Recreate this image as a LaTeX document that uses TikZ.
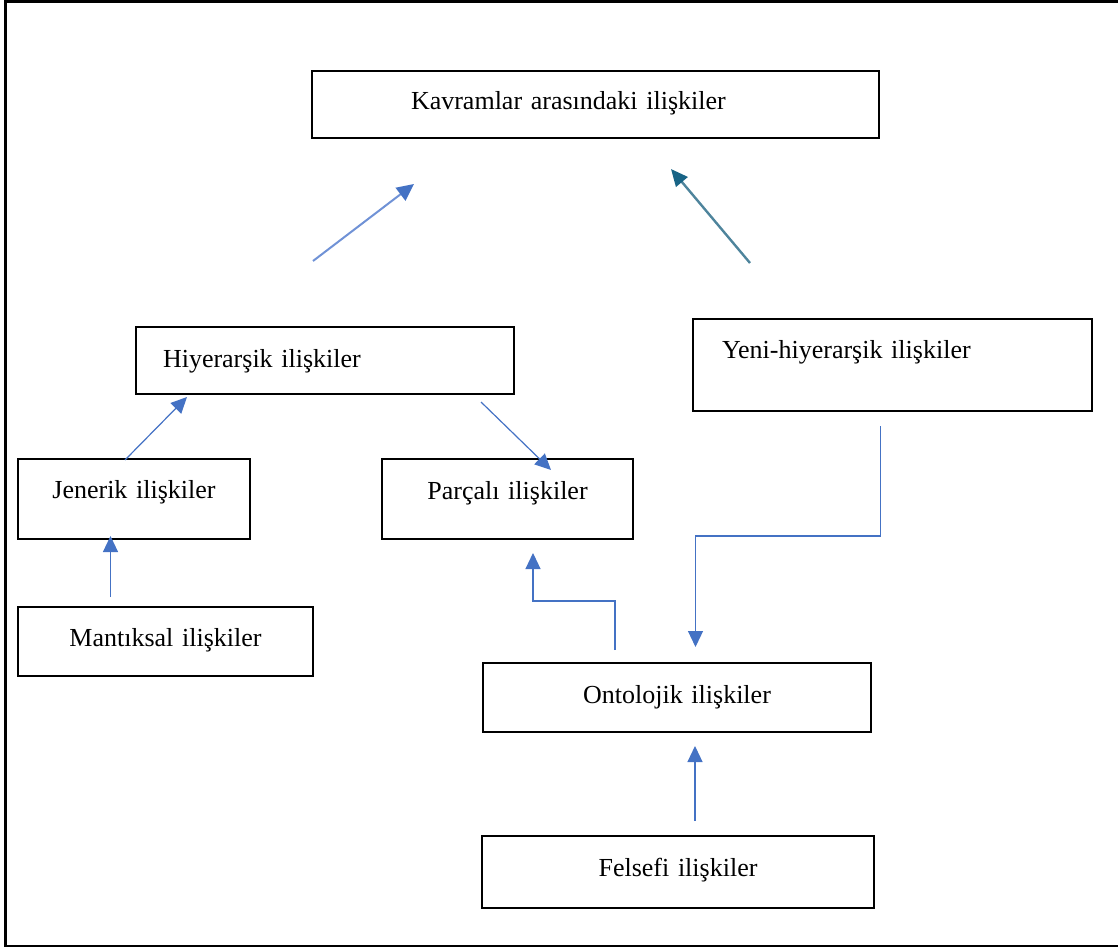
\documentclass[tikz,border=0pt]{standalone}
\usepackage{fontspec}
\setmainfont{Liberation Serif}
\usepackage{tikz}
\usetikzlibrary{arrows.meta,positioning}
\usepackage{xcolor}
\definecolor{okmavi}{RGB}{68,114,196}
\definecolor{okacik}{RGB}{112,146,214}
\definecolor{okteal}{RGB}{24,100,134}
\definecolor{oktealacik}{RGB}{78,132,156}
\tikzstyle{kutu} = [rectangle, draw=black, line width=2pt, anchor=north west, inner xsep=0pt, inner ysep=0pt, align=center, font=\fontsize{26}{30}\selectfont]
\tikzstyle{solkutu} = [kutu, align=left]
\tikzstyle{ok} = [line width=1.2pt, color=okmavi, -{Triangle[length=16pt,width=15pt]}]

\begin{document}
\begin{tikzpicture}[x=1pt, y=-1pt]
\useasboundingbox (0,0) rectangle (1118,949);
% frame
\draw[line width=2.4pt] (1120,1.5) -| (5.5,946) -- (1120,946);

% boxes
\node (kavram) [solkutu, inner xsep=99pt, text width=369pt, text height=39pt, text depth=28pt] at (311,70) {Kavramlar arasındaki ilişkiler};
\node (hiyer) [solkutu, inner xsep=27pt, text width=324pt, text height=40pt, text depth=27pt] at (135,326) {Hiyerarşik ilişkiler};
\node (yeni) [solkutu, inner xsep=29pt, text width=341pt, text height=39pt, text depth=53pt] at (692,318) {Yeni-hiyerarşik ilişkiler};
\node (jenerik) [kutu, text width=232pt, text height=39pt, text depth=41pt] at (17,458) {Jenerik ilişkiler};
\node (parcali) [kutu, text width=251pt, text height=40pt, text depth=40pt] at (381,458) {Parçalı ilişkiler};
\node (mantik) [kutu, text width=295pt, text height=39pt, text depth=30pt] at (17,606) {Mantıksal ilişkiler};
\node (onto) [kutu, text width=388pt, text height=40pt, text depth=29pt] at (482,662) {Ontolojik ilişkiler};
\node (felsefi) [kutu, text width=392pt, text height=40pt, text depth=32pt] at (481,835) {Felsefi ilişkiler};

% free ends of the connectors
\coordinate (h1) at (313,261);
\coordinate (k1) at (414,184);
\coordinate (y1) at (750,263);
\coordinate (k2) at (671,169);
\coordinate (j1) at (125,460);
\coordinate (h2) at (187,397);
\coordinate (h3) at (481,402);
\coordinate (p1) at (551,470);
\coordinate (m1) at (110.5,597);
\coordinate (j2) at (110.5,536);
\coordinate (o1) at (615,650);
\coordinate (d1) at (533,601);
\coordinate (p2) at (533,553);
\coordinate (y2) at (880.5,426);
\coordinate (d2) at (695.5,536);
\coordinate (o2) at (695.5,647);
\coordinate (f1) at (695,821);
\coordinate (o3) at (695,746);

% arrows to the top
\draw[line width=2pt, color=okacik, -{Triangle[length=17pt,width=16pt,color=okmavi]}] (h1) -- (k1);
\draw[line width=2.4pt, color=oktealacik, -{Triangle[length=17pt,width=15pt,color=okteal]}] (y1) -- (k2);

% arrows below
\draw[ok] (j1) -- (h2);
\draw[ok] (h3) -- (p1);
\draw[ok] (m1) -- (j2);
\draw[ok] (o1) |- (d1) -- (p2);
\draw[ok] (y2) |- (d2) -- (o2);
\draw[ok] (f1) -- (o3);
\end{tikzpicture}
\end{document}
